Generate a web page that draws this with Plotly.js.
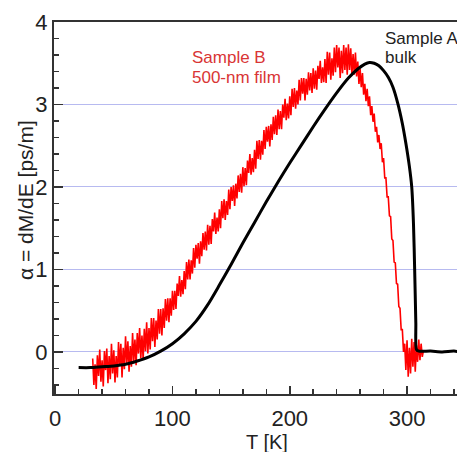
<!DOCTYPE html>
<html>
<head>
<meta charset="utf-8">
<script src="https://cdn.plot.ly/plotly-3.0.1.min.js"></script>
<style>
html,body{margin:0;padding:0;background:#fff;overflow:hidden;}
#chart{width:457px;height:452px;}
</style>
</head>
<body>
<div id="chart"></div>
<script>
// Sample A (bulk) : temperature [K] and alpha [ps/m]
var tempA = [20, 30, 40, 50, 60, 70, 80, 90, 100, 110, 120, 130, 140, 150, 160, 170, 180, 190, 200, 210, 220, 230, 240, 250, 258, 264, 268, 272, 276, 280, 284, 288, 292, 296, 299, 302, 304, 305.5, 306.5, 307.5, 308, 310, 320, 330, 340, 345];
var alphaA = [-0.19, -0.19, -0.18, -0.17, -0.15, -0.11, -0.06, 0.01, 0.10, 0.22, 0.37, 0.57, 0.81, 1.06, 1.32, 1.57, 1.82, 2.06, 2.29, 2.51, 2.73, 2.94, 3.14, 3.32, 3.43, 3.49, 3.51, 3.50, 3.47, 3.41, 3.33, 3.21, 3.02, 2.77, 2.53, 2.25, 2.00, 1.55, 1.00, 0.35, 0.03, 0.01, 0.01, 0.00, 0.01, 0.00];

// Sample B (500-nm film): readings every 1 K starting at 32 K
var tempBStart = 32;
var tempBStep = 1;
var alphaB = [
 // 32-99 K
 -0.08, -0.40, -0.15, -0.45, -0.04, -0.29, 0.03, -0.36, -0.10, -0.42,
 0.01, -0.22, 0.04, -0.38, -0.05, -0.33, 0.10, -0.26, 0.02, -0.37,
 -0.05, -0.31, 0.12, -0.17, 0.10, -0.31, 0.05, -0.21, 0.19, -0.14,
 0.13, -0.24, 0.07, -0.18, 0.23, -0.12, 0.15, -0.16, 0.23, -0.02,
 0.29, -0.08, 0.20, -0.09, 0.28, 0.01, 0.36, -0.02, 0.29, 0.03,
 0.41, 0.13, 0.41, 0.06, 0.38, 0.15, 0.52, 0.22, 0.52, 0.20,
 0.53, 0.29, 0.64, 0.38, 0.65, 0.36, 0.65, 0.44,
 // 100-249 K
 0.74, 0.51, 0.74, 0.52, 0.83, 0.68, 0.92, 0.67, 0.87, 0.70,
 0.98, 0.76, 1.09, 0.88, 1.12, 0.88, 1.11, 0.95, 1.26, 1.02,
 1.30, 1.13, 1.32, 1.07, 1.34, 1.16, 1.44, 1.24, 1.46, 1.23,
 1.54, 1.30, 1.53, 1.31, 1.61, 1.46, 1.69, 1.43, 1.63, 1.46,
 1.73, 1.50, 1.83, 1.62, 1.85, 1.60, 1.83, 1.66, 1.97, 1.73,
 2.00, 1.83, 2.02, 1.77, 2.04, 1.86, 2.14, 1.94, 2.16, 1.93,
 2.24, 2.01, 2.23, 2.02, 2.32, 2.17, 2.40, 2.15, 2.35, 2.18,
 2.45, 2.22, 2.56, 2.34, 2.57, 2.33, 2.56, 2.39, 2.69, 2.46,
 2.73, 2.55, 2.74, 2.49, 2.76, 2.57, 2.85, 2.64, 2.87, 2.63,
 2.94, 2.70, 2.92, 2.70, 3.00, 2.84, 3.07, 2.81, 3.01, 2.83,
 3.10, 2.87, 3.19, 2.97, 3.20, 2.95, 3.17, 3.00, 3.30, 3.05,
 3.32, 3.13, 3.32, 3.05, 3.31, 3.12, 3.39, 3.17, 3.38, 3.14,
 3.44, 3.19, 3.41, 3.18, 3.47, 3.31, 3.53, 3.26, 3.45, 3.27,
 3.55, 3.26, 3.64, 3.36, 3.63, 3.30, 3.56, 3.35, 3.69, 3.39,
 3.72, 3.45, 3.69, 3.32, 3.65, 3.38, 3.72, 3.42, 3.69, 3.36,
 // 250-297 K
 3.73, 3.42, 3.68, 3.36, 3.61, 3.36, 3.63, 3.34, 3.52, 3.25,
 3.43, 3.21, 3.38, 3.12, 3.25, 3.04, 3.19, 2.98, 3.10, 2.87,
 2.98, 2.79, 2.89, 2.67, 2.73, 2.54, 2.63, 2.46, 2.53, 2.30,
 2.35, 2.11, 2.11, 1.88, 1.88, 1.65, 1.64, 1.37, 1.35, 1.09,
 1.08, 0.83, 0.82, 0.55, 0.53, 0.27, 0.27, 0.00,
 // 298-314 K
 0.10, -0.22, 0.14, -0.30, 0.05, -0.26, 0.16, -0.18, 0.12, -0.24,
 0.08, -0.12, 0.15, -0.10, 0.10, -0.06, 0.02
];

var xTickVals = [0, 100, 200, 300];
var xTickText = ["0", "100", "200", "300"];
var yTickVals = [0, 1, 2, 3, 4];
var yTickText = ["0", "1", "2", "3", "4"];

var labelB1 = "Sample B";
var labelB2 = "500-nm film";
var labelA1 = "Sample A";
var labelA2 = "bulk";
var xTitle = "T [K]";
var yTitle = "α = dM/dE [ps/m]";

var traces = [
  {
    type: "scatter", mode: "lines",
    x0: tempBStart, dx: tempBStep, y: alphaB,
    line: {color: "#ff0000", width: 1.6},
    hoverinfo: "skip"
  },
  {
    type: "scatter", mode: "lines",
    x: tempA, y: alphaA,
    line: {color: "#000000", width: 3, shape: "spline", smoothing: 0.7},
    hoverinfo: "skip"
  }
];

var axisColor = "#333333";
var fontFam = "Liberation Sans, Arial, sans-serif";

var layout = {
  width: 457, height: 452,
  margin: {l: 54, r: 0, t: 22, b: 58, pad: 0},
  paper_bgcolor: "#ffffff",
  plot_bgcolor: "#ffffff",
  showlegend: false,
  font: {family: fontFam, color: "#222222"},
  xaxis: {
    range: [-1, 342.6],
    tickvals: xTickVals, ticktext: xTickText,
    ticks: "inside", ticklen: 8, tickwidth: 1.5, tickcolor: axisColor,
    minor: {dtick: 20, tick0: 0, ticks: "inside", ticklen: 5, tickwidth: 1.5, tickcolor: axisColor, showgrid: false},
    showline: true, linecolor: axisColor, linewidth: 2, mirror: true,
    showgrid: false, zeroline: false,
    tickfont: {size: 22, family: fontFam, color: "#222222"},
    ticklabelstandoff: 4
  },
  yaxis: {
    range: [-0.51, 4],
    tickvals: yTickVals, ticktext: yTickText,
    ticks: "inside", ticklen: 9, tickwidth: 1.5, tickcolor: axisColor,
    minor: {dtick: 0.2, tick0: 0, ticks: "inside", ticklen: 5, tickwidth: 1.5, tickcolor: axisColor, showgrid: false},
    showline: true, linecolor: axisColor, linewidth: 2, mirror: false,
    showgrid: true, gridcolor: "#b7baf0", gridwidth: 1,
    zeroline: false,
    tickfont: {size: 22, family: fontFam, color: "#222222"}
  },
  annotations: [
    {xref: "paper", yref: "paper", x: (190 - 54) / 403, y: (394 - 57.5) / 372, xanchor: "left", yanchor: "middle",
     text: labelB1, showarrow: false, font: {size: 17, color: "#d93535", family: fontFam}},
    {xref: "paper", yref: "paper", x: (190 - 54) / 403, y: (394 - 77.5) / 372, xanchor: "left", yanchor: "middle",
     text: labelB2, showarrow: false, font: {size: 17, color: "#d93535", family: fontFam}},
    {xref: "paper", yref: "paper", x: (383 - 54) / 403, y: (394 - 38.5) / 372, xanchor: "left", yanchor: "middle",
     text: labelA1, showarrow: false, font: {size: 17, color: "#222222", family: fontFam}},
    {xref: "paper", yref: "paper", x: (383 - 54) / 403, y: (394 - 57.5) / 372, xanchor: "left", yanchor: "middle",
     text: labelA2, showarrow: false, font: {size: 17, color: "#222222", family: fontFam}},
    {xref: "paper", yref: "paper", x: (267 - 54) / 403, y: (394 - 442) / 372, xanchor: "center", yanchor: "middle",
     text: xTitle, showarrow: false, font: {size: 20, color: "#222222", family: fontFam}},
    {xref: "paper", yref: "paper", x: (25 - 54) / 403, y: (394 - 200) / 372, xanchor: "center", yanchor: "middle",
     text: yTitle, textangle: -90, showarrow: false, font: {size: 21, color: "#222222", family: fontFam}}
  ]
};

Plotly.newPlot("chart", traces, layout, {displayModeBar: false, staticPlot: true});
</script>
</body>
</html>
